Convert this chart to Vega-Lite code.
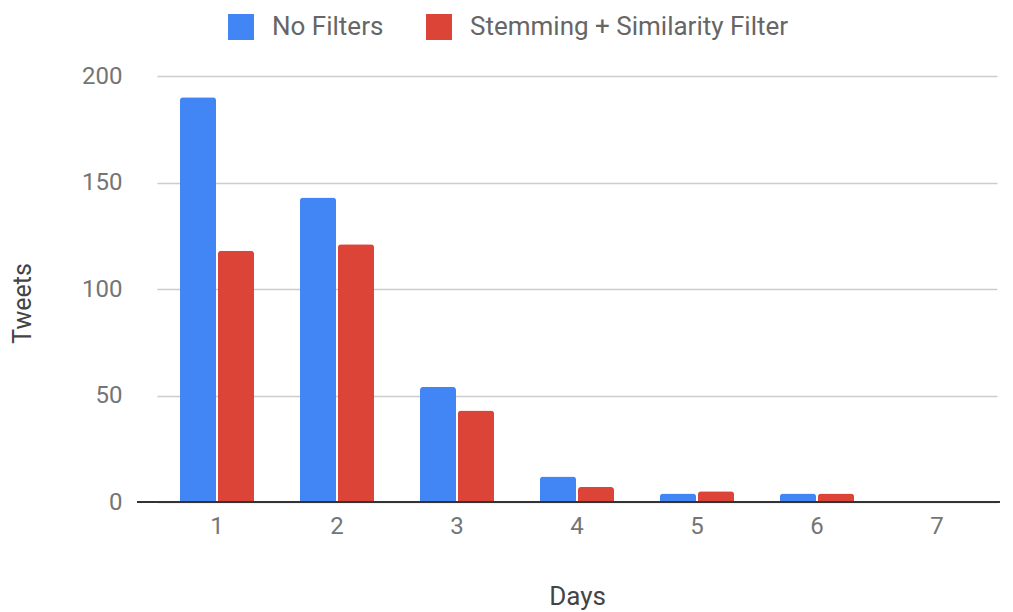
{
  "$schema": "https://vega.github.io/schema/vega-lite/v6.json",
  "width": 863,
  "height": 426,
  "autosize": {"type": "none"},
  "padding": {"left": 137, "top": 76, "right": 13, "bottom": 110},
  "background": "white",
  "data": {
    "values": [
      {"Day": "1", "Series": "No Filters", "Tweets": 190},
      {"Day": "1", "Series": "Stemming + Similarity Filter", "Tweets": 118},
      {"Day": "2", "Series": "No Filters", "Tweets": 143},
      {"Day": "2", "Series": "Stemming + Similarity Filter", "Tweets": 121},
      {"Day": "3", "Series": "No Filters", "Tweets": 54},
      {"Day": "3", "Series": "Stemming + Similarity Filter", "Tweets": 43},
      {"Day": "4", "Series": "No Filters", "Tweets": 12},
      {"Day": "4", "Series": "Stemming + Similarity Filter", "Tweets": 7},
      {"Day": "5", "Series": "No Filters", "Tweets": 4},
      {"Day": "5", "Series": "Stemming + Similarity Filter", "Tweets": 5},
      {"Day": "6", "Series": "No Filters", "Tweets": 4},
      {"Day": "6", "Series": "Stemming + Similarity Filter", "Tweets": 4},
      {"Day": "7", "Series": "No Filters", "Tweets": 0},
      {"Day": "7", "Series": "Stemming + Similarity Filter", "Tweets": 0}
    ]
  },
  "layer": [
    {
      "mark": {"type": "bar", "cornerRadiusTopLeft": 3, "cornerRadiusTopRight": 3},
      "encoding": {
        "x": {
          "field": "Day",
          "type": "nominal",
          "sort": null,
          "scale": {"range": [20, 860], "paddingInner": 0, "paddingOuter": 0},
          "axis": {
            "title": "Days",
            "labelAngle": 0,
            "labelFont": "Roboto",
            "labelFontSize": 24,
            "labelColor": "#757575",
            "labelPadding": 12,
            "ticks": false,
            "domain": false,
            "titleFont": "Roboto",
            "titleFontSize": 26,
            "titleFontWeight": "normal",
            "titleColor": "#444444",
            "titleX": 440,
            "titleY": 94,
            "titleBaseline": "middle",
            "titleAlign": "center"
          }
        },
        "xOffset": {
          "field": "Series",
          "type": "nominal",
          "scale": {"paddingInner": 0.0526, "paddingOuter": 0.605}
        },
        "y": {
          "field": "Tweets",
          "type": "quantitative",
          "scale": {"domain": [0, 200], "nice": false},
          "axis": {
            "title": "Tweets",
            "values": [0, 50, 100, 150, 200],
            "labelFont": "Roboto",
            "labelFontSize": 24,
            "labelColor": "#757575",
            "labelPadding": 15,
            "ticks": false,
            "domain": false,
            "gridColor": "#cccccc",
            "gridWidth": 1.5,
            "titleFont": "Roboto",
            "titleFontSize": 25,
            "titleFontWeight": "normal",
            "titleColor": "#444444",
            "titleX": -115,
            "titleY": 227,
            "titleAngle": -90,
            "titleBaseline": "middle",
            "titleAlign": "center"
          }
        },
        "color": {
          "field": "Series",
          "type": "nominal",
          "scale": {
            "domain": ["No Filters", "Stemming + Similarity Filter"],
            "range": ["#4285F4", "#DB4437"]
          },
          "legend": {
            "title": null,
            "orient": "none",
            "direction": "horizontal",
            "legendX": 91,
            "legendY": -62,
            "symbolType": "square",
            "symbolSize": 676,
            "symbolStrokeWidth": 0,
            "labelFont": "Roboto",
            "labelFontSize": 26,
            "labelLimit": 500,
            "labelColor": "#666666",
            "labelOffset": 18,
            "columnPadding": 42
          }
        }
      }
    },
    {
      "mark": {"type": "rule", "color": "#333333", "strokeWidth": 2},
      "encoding": {
        "y": {"datum": 0, "type": "quantitative"}
      }
    }
  ],
  "config": {
    "view": {"stroke": null}
  }
}
